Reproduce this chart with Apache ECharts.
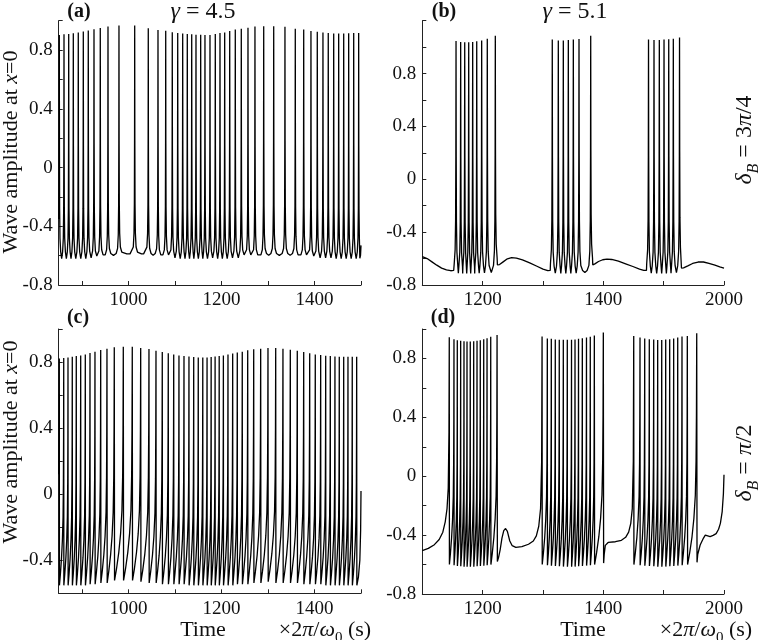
<!DOCTYPE html>
<html><head><meta charset="utf-8">
<script src="https://cdn.jsdelivr.net/npm/echarts@6/dist/echarts.min.js"></script>
<style>html,body{margin:0;padding:0;background:#fff}#c{width:759px;height:640px}</style>
</head><body><div id="c"></div>
<script>
// ---------------- DATA ----------------
// Panel (a): gamma = 4.5, deltaB = 3pi/4  (regular spiking)
const aLead = [[850, -0.35]];
const aSpikeT = [851.3, 861.4, 871.5, 881.4, 892.1, 902.9, 913.6, 925.9, 939.4, 956.0, 979.6, 1013.4, 1042.6, 1063.5, 1080.1, 1094.2, 1105.9, 1116.6, 1126.5, 1136.0, 1145.2, 1155.3, 1164.5, 1175.3, 1186.7, 1196.8, 1206.9, 1217.7, 1229.7, 1242.6, 1257.0, 1272.0, 1290.8, 1312.3, 1336.5, 1358.7, 1376.8, 1392.4, 1406.0, 1418.2, 1429.6, 1441.3, 1452.0, 1462.8, 1473.5, 1484.3, 1495.0];
const aSpikeV = [0.903, 0.908, 0.91, 0.914, 0.919, 0.926, 0.933, 0.942, 0.951, 0.96, 0.967, 0.967, 0.949, 0.937, 0.931, 0.922, 0.917, 0.912, 0.91, 0.908, 0.905, 0.905, 0.903, 0.903, 0.91, 0.917, 0.92, 0.93, 0.94, 0.945, 0.952, 0.96, 0.962, 0.962, 0.958, 0.945, 0.94, 0.93, 0.925, 0.92, 0.917, 0.912, 0.912, 0.912, 0.914, 0.917, 0.917];
const aTrough = [-0.62, -0.62, -0.62, -0.62, -0.62, -0.62, -0.615, -0.615, -0.607, -0.598, -0.588, -0.588, -0.598, -0.607, -0.607, -0.615, -0.62, -0.62, -0.62, -0.62, -0.62, -0.62, -0.62, -0.615, -0.62, -0.62, -0.62, -0.615, -0.615, -0.607, -0.607, -0.607, -0.598, -0.598, -0.598, -0.607, -0.607, -0.615, -0.615, -0.615, -0.615, -0.62, -0.62, -0.62, -0.62, -0.62];
const aTail = [[1497.5, -0.618], [1499, -0.598], [1500, -0.53]];

// Panel (b): gamma = 5.1, deltaB = 3pi/4  (bursting)
const bBase0 = [[1100, -0.585], [1108, -0.6], [1116, -0.625], [1124, -0.65], [1132, -0.672], [1140, -0.686], [1147, -0.692], [1152, -0.69]];
const bBurst1T = [1155.9, 1163.6, 1170.3, 1176.9, 1183.5, 1190.2, 1198.4, 1207.7, 1221.0];
const bBurst1V = [1.046, 1.038, 1.036, 1.036, 1.038, 1.044, 1.051, 1.064, 1.087];
const bBurst1Tr = [-0.71, -0.712, -0.712, -0.712, -0.712, -0.71, -0.708, -0.705];
const bBase1 = [[1224.5, -0.648], [1228, -0.645], [1234, -0.625], [1241, -0.602], [1248, -0.593], [1256, -0.596], [1266, -0.61], [1278, -0.633], [1290, -0.658], [1300, -0.68], [1308, -0.692], [1312, -0.69]];
const bBurst2T = [1315.4, 1325.4, 1333.7, 1342.0, 1350.3, 1359.7, 1379.1];
const bBurst2V = [1.057, 1.051, 1.051, 1.054, 1.057, 1.061, 1.087];
const bBurst2Tr = [-0.71, -0.712, -0.712, -0.712, -0.71, -0.705];
const bBase2 = [[1382.5, -0.648], [1386, -0.64], [1392, -0.622], [1399, -0.609], [1406, -0.604], [1414, -0.607], [1425, -0.62], [1437, -0.64], [1449, -0.66], [1460, -0.68], [1467, -0.69], [1471.5, -0.69]];
const bBurst3T = [1474.9, 1484.0, 1492.8, 1500.6, 1508.4, 1516.0, 1526.3];
const bBurst3V = [1.057, 1.054, 1.054, 1.057, 1.059, 1.064, 1.072];
const bBurst3Tr = [-0.71, -0.712, -0.712, -0.712, -0.71, -0.707];
const bBase3 = [[1529.5, -0.672], [1533, -0.67], [1540, -0.655], [1548, -0.637], [1557, -0.626], [1566, -0.626], [1575, -0.636], [1585, -0.65], [1593, -0.662], [1600, -0.672]];

// Panel (c): gamma = 4.5, deltaB = pi/2  (regular sawtooth spiking)
const cLead = [[850, 0.12]];
const cSpikeT = [851.3, 860.8, 870.0, 879.2, 887.8, 897.3, 907.2, 917.3, 928.0, 940.3, 953.8, 969.5, 988.9, 1008.2, 1026.3, 1044.1, 1059.2, 1072.7, 1085.6, 1097.3, 1108.6, 1119.4, 1130.1, 1140.3, 1150.1, 1159.8, 1169.0, 1177.8, 1186.3, 1195.1, 1204.1, 1214.0, 1224.1, 1234.0, 1244.7, 1256.4, 1269.3, 1284.3, 1300.0, 1316.6, 1332.2, 1348.0, 1363.0, 1376.8, 1389.7, 1401.7, 1413.3, 1424.1, 1434.0, 1444.0, 1453.3, 1462.8, 1472.0, 1481.2, 1490.7];
const cSpikeV = [0.822, 0.824, 0.828, 0.832, 0.836, 0.840, 0.846, 0.855, 0.863, 0.873, 0.881, 0.889, 0.893, 0.893, 0.885, 0.879, 0.869, 0.861, 0.853, 0.846, 0.840, 0.836, 0.834, 0.830, 0.828, 0.828, 0.828, 0.830, 0.834, 0.836, 0.840, 0.846, 0.851, 0.857, 0.863, 0.871, 0.877, 0.881, 0.885, 0.885, 0.881, 0.875, 0.869, 0.861, 0.853, 0.846, 0.842, 0.838, 0.836, 0.834, 0.832, 0.832, 0.832, 0.832, 0.832];
const cTrough = [-0.552, -0.552, -0.552, -0.552, -0.552, -0.552, -0.552, -0.545, -0.545, -0.537, -0.537, -0.522, -0.522, -0.522, -0.53, -0.537, -0.537, -0.545, -0.545, -0.545, -0.545, -0.545, -0.552, -0.552, -0.552, -0.552, -0.552, -0.552, -0.552, -0.552, -0.552, -0.552, -0.552, -0.545, -0.545, -0.545, -0.537, -0.537, -0.53, -0.537, -0.537, -0.537, -0.537, -0.545, -0.545, -0.545, -0.545, -0.552, -0.552, -0.552, -0.552, -0.552, -0.552, -0.552];
const cTail = [[1491.1, -0.552], [1494.5, -0.5], [1497.5, -0.4], [1499.2, -0.22], [1500, 0.02]];

// Panel (d): gamma = 5.1, deltaB = pi/2  (bursting, sawtooth)
const dBase0 = [[1100, -0.505], [1110, -0.49], [1120, -0.465], [1128, -0.43], [1134, -0.38], [1138, -0.31], [1141, -0.22], [1143, -0.08], [1144.2, 0.3]];
const dBurst1T = [1144.7, 1152.5, 1158.0, 1163.6, 1169.1, 1174.1, 1179.5, 1185.2, 1190.7, 1196.1, 1201.8, 1207.3, 1213.4, 1223.9];
const dBurst1V = [0.944, 0.931, 0.924, 0.920, 0.917, 0.915, 0.915, 0.917, 0.920, 0.924, 0.931, 0.937, 0.947, 0.960];
const dBurst1Tr = [-0.60, -0.605, -0.61, -0.612, -0.615, -0.615, -0.615, -0.615, -0.612, -0.61, -0.608, -0.605, -0.60];
const dBase1 = [[1224.4, -0.58], [1226.5, -0.55], [1229, -0.5], [1232, -0.42], [1235, -0.37], [1238, -0.355], [1241, -0.375], [1245, -0.44], [1249, -0.472], [1255, -0.483], [1265, -0.478], [1276, -0.462], [1284, -0.44], [1289, -0.405], [1293, -0.34], [1296, -0.22], [1297.8, 0.1]];
const dBurst2T = [1298.5, 1307.2, 1313.8, 1320.4, 1327.0, 1333.7, 1340.3, 1347.3, 1353.1, 1358.9, 1365.2, 1372.1, 1378.4, 1385.1, 1400.0];
const dBurst2V = [0.949, 0.935, 0.933, 0.929, 0.927, 0.927, 0.927, 0.927, 0.929, 0.933, 0.937, 0.942, 0.947, 0.955, 0.976];
const dBurst2Tr = [-0.60, -0.605, -0.608, -0.61, -0.612, -0.614, -0.615, -0.615, -0.614, -0.612, -0.61, -0.607, -0.604, -0.60];
const dBase2 = [[1400.5, -0.59], [1401.5, -0.53], [1403.3, -0.47], [1408, -0.45], [1420, -0.445], [1430, -0.435], [1437, -0.415], [1442, -0.38], [1445.5, -0.32], [1448, -0.22], [1449.7, 0.1]];
const dBurst3T = [1450.4, 1460.8, 1468.6, 1476.2, 1483.5, 1490.1, 1496.8, 1503.4, 1510.0, 1516.6, 1523.3, 1530.4, 1539.2, 1554.8];
const dBurst3V = [0.953, 0.942, 0.935, 0.931, 0.929, 0.926, 0.926, 0.929, 0.931, 0.935, 0.942, 0.949, 0.953, 0.971];
const dBurst3Tr = [-0.60, -0.605, -0.608, -0.61, -0.612, -0.615, -0.615, -0.614, -0.612, -0.61, -0.607, -0.604, -0.60];
const dBase3 = [[1555.3, -0.585], [1556.5, -0.53], [1560.5, -0.467], [1566, -0.42], [1569, -0.40], [1573, -0.405], [1577, -0.41], [1582, -0.402], [1587, -0.39], [1591, -0.36], [1594, -0.32], [1597, -0.24], [1599, -0.12], [1600, 0.01]];

// Axis ticks / labels
const adXMin = 850, adXMax = 1500;
const acXTicks = [900, 1000, 1100, 1200, 1300, 1400, 1500];
const acXLabels = [1000, 1200, 1400];
const bdXMin = 1100, bdXMax = 1600;
const bdXTicks = [1200, 1300, 1400, 1500, 1600];
const bdXLabelPos = [1200, 1400, 1600];
const bdXLabelText = ['1200', '1400', '2000'];
const yRangeA = [-0.8, 1.0], yRangeB = [-0.8, 1.2], yRangeC = [-0.6, 1.0], yRangeD = [-0.8, 1.0];

// ---------------- line construction (spike shapes between read peaks/troughs) ----------------
const U_DT = [0.3, 0.7, 1.5, 3, 6, 10];
const U_R = [0.5, 0.22, 0.09, 0.03, 0.008, 0.0];
function uDown(pts, t1, p1, T, avail) {
  for (let k = 0; k < U_DT.length; k++) if (U_DT[k] < avail * 0.9) pts.push([t1 + U_DT[k], T + U_R[k] * (p1 - T)]);
}
function uUp(pts, t2, p2, T, avail) {
  for (let k = U_DT.length - 1; k >= 0; k--) if (U_DT[k] < avail * 0.9) pts.push([t2 - U_DT[k], T + U_R[k] * (p2 - T)]);
}
function uBurst(pts, T, P, Tr, nextBase) {
  const last = pts[pts.length - 1];
  uUp(pts, T[0], P[0], last[1], T[0] - last[0]);
  for (let i = 0; i < T.length; i++) {
    pts.push([T[i], P[i]]);
    if (i < T.length - 1) {
      const half = (T[i + 1] - T[i]) / 2;
      uDown(pts, T[i], P[i], Tr[i], half);
      pts.push([T[i] + half, Tr[i]]);
      uUp(pts, T[i + 1], P[i + 1], Tr[i], half);
    }
  }
  const n = T.length - 1;
  uDown(pts, T[n], P[n], nextBase[0][1], nextBase[0][0] - T[n]);
  nextBase.forEach(p => pts.push(p));
}
const S_F = [0.03, 0.25, 0.5, 0.7, 0.85, 0.93, 0.97];
const S_R = [0, 0.05, 0.12, 0.2, 0.3, 0.45, 0.65];
function sBurst(pts, T, P, Tr, nextBase) {
  for (let i = 0; i < T.length; i++) {
    pts.push([T[i], P[i]]);
    if (i < T.length - 1) {
      const g = T[i + 1] - T[i];
      for (let k = 0; k < S_F.length; k++) pts.push([T[i] + S_F[k] * g, Tr[i] + S_R[k] * (P[i + 1] - Tr[i])]);
    }
  }
  nextBase.forEach(p => pts.push(p));
}
const lineA = aLead.slice(); uBurst(lineA, aSpikeT, aSpikeV, aTrough, aTail);
const lineB = bBase0.slice();
uBurst(lineB, bBurst1T, bBurst1V, bBurst1Tr, bBase1);
uBurst(lineB, bBurst2T, bBurst2V, bBurst2Tr, bBase2);
uBurst(lineB, bBurst3T, bBurst3V, bBurst3Tr, bBase3);
const lineC = cLead.slice(); sBurst(lineC, cSpikeT, cSpikeV, cTrough, cTail);
const lineD = dBase0.slice();
sBurst(lineD, dBurst1T, dBurst1V, dBurst1Tr, dBase1);
sBurst(lineD, dBurst2T, dBurst2V, dBurst2Tr, dBase2);
sBurst(lineD, dBurst3T, dBurst3V, dBurst3Tr, dBase3);

// ---------------- chart ----------------
const FONT = "'Liberation Serif','DejaVu Serif',serif";
const AX = '#222';
function yFmt(v) {
  const k = Math.round(v * 10);
  if (k % 4 !== 0 || k > 8) return '';
  return k === 0 ? '0' : (k / 10).toFixed(1);
}
function yAx(gi, r) {
  return {
    type: 'value', gridIndex: gi, min: r[0], max: r[1], interval: 0.2,
    axisLine: { show: true, onZero: false, lineStyle: { color: AX, width: 1 } },
    axisTick: { show: true, inside: true, length: 4, lineStyle: { color: AX } },
    axisLabel: { show: true, margin: 6, fontFamily: FONT, fontSize: 19, color: '#111', formatter: yFmt },
    splitLine: { show: false }
  };
}
function xAx(gi, min, max, ticks, labelPos, labelText) {
  return {
    type: 'value', gridIndex: gi, min: min, max: max,
    axisLine: { show: true, onZero: false, lineStyle: { color: AX, width: 1 } },
    axisTick: { show: true, inside: true, length: 4, lineStyle: { color: AX }, customValues: ticks },
    axisLabel: {
      show: true, margin: 6, fontFamily: FONT, fontSize: 19, color: '#111', customValues: labelPos,
      formatter: v => { const i = labelPos.indexOf(Math.round(v)); return i >= 0 ? labelText[i] : ''; }
    },
    splitLine: { show: false }
  };
}
function ser(i, data) {
  return { type: 'line', xAxisIndex: i, yAxisIndex: i, data: data, showSymbol: false, symbol: 'none',
    lineStyle: { color: '#000', width: 1.3 }, clip: true, silent: true, animation: false };
}
const rich = {
  n: { fontFamily: FONT, fontSize: 22, color: '#111', lineHeight: 32, verticalAlign: 'middle' },
  i: { fontFamily: FONT, fontSize: 22, fontStyle: 'italic', color: '#111', lineHeight: 32, verticalAlign: 'middle' },
  s: { fontFamily: FONT, fontSize: 15, color: '#111', lineHeight: 15, verticalAlign: 'bottom' },
  m: { fontFamily: FONT, fontSize: 24, color: '#111', lineHeight: 34, verticalAlign: 'middle' },
  mi: { fontFamily: FONT, fontSize: 24, fontStyle: 'italic', color: '#111', lineHeight: 34, verticalAlign: 'middle' },
  ms: { fontFamily: FONT, fontSize: 16, fontStyle: 'italic', color: '#111', lineHeight: 16, verticalAlign: 'bottom' }
};
function txt(x, y, text, rot) {
  return { type: 'text', x: x, y: y, rotation: rot || 0, silent: true,
    style: { text: text, rich: rich, align: 'center', verticalAlign: 'middle', fontFamily: FONT, fontSize: 22, fill: '#111' } };
}
function bold(x, y, t) {
  return { type: 'text', x: x, y: y, silent: true,
    style: { text: t, fontFamily: FONT, fontSize: 20, fontWeight: 'bold', fill: '#111', align: 'center', verticalAlign: 'middle' } };
}
const option = {
  backgroundColor: '#fff',
  animation: false,
  grid: [
    { left: 58.7, top: 20.7, width: 302.3, height: 264.3 },
    { left: 422.3, top: 20.7, width: 301.7, height: 264.3 },
    { left: 58.7, top: 329, width: 302.3, height: 264.3 },
    { left: 422.3, top: 329, width: 301.7, height: 265 }
  ],
  xAxis: [
    xAx(0, adXMin, adXMax, acXTicks, acXLabels, acXLabels.map(String)),
    xAx(1, bdXMin, bdXMax, bdXTicks, bdXLabelPos, bdXLabelText),
    xAx(2, adXMin, adXMax, acXTicks, acXLabels, acXLabels.map(String)),
    xAx(3, bdXMin, bdXMax, bdXTicks, bdXLabelPos, bdXLabelText)
  ],
  yAxis: [yAx(0, yRangeA), yAx(1, yRangeB), yAx(2, yRangeC), yAx(3, yRangeD)],
  series: [ser(0, lineA), ser(1, lineB), ser(2, lineC), ser(3, lineD)],
  graphic: [
    bold(79, 12, '(a)'), bold(444, 12, '(b)'), bold(78, 318, '(c)'), bold(443, 318, '(d)'),
    txt(203, 12, '{mi|γ}{m| = 4.5}'),
    txt(575, 12, '{mi|γ}{m| = 5.1}'),
    txt(11, 152, '{n|Wave amplitude at }{i|x}{n|=0}', Math.PI / 2),
    txt(11, 442, '{n|Wave amplitude at }{i|x}{n|=0}', Math.PI / 2),
    txt(745, 140, '{mi|δ}{ms|B}{m| = 3}{mi|π}{m|/4}', Math.PI / 2),
    txt(745, 463, '{mi|δ}{ms|B}{m| = }{mi|π}{m|/2}', Math.PI / 2),
    txt(203, 630, '{n|Time}'),
    txt(583, 630, '{n|Time}'),
    txt(325, 630, '{n|×2}{i|π}{n|/}{i|ω}{s|0}{n| (s)}'),
    txt(706, 630, '{n|×2}{i|π}{n|/}{i|ω}{s|0}{n| (s)}')
  ]
};
const chart = echarts.init(document.getElementById('c'), null, { renderer: 'canvas' });
chart.setOption(option);
</script></body></html>
